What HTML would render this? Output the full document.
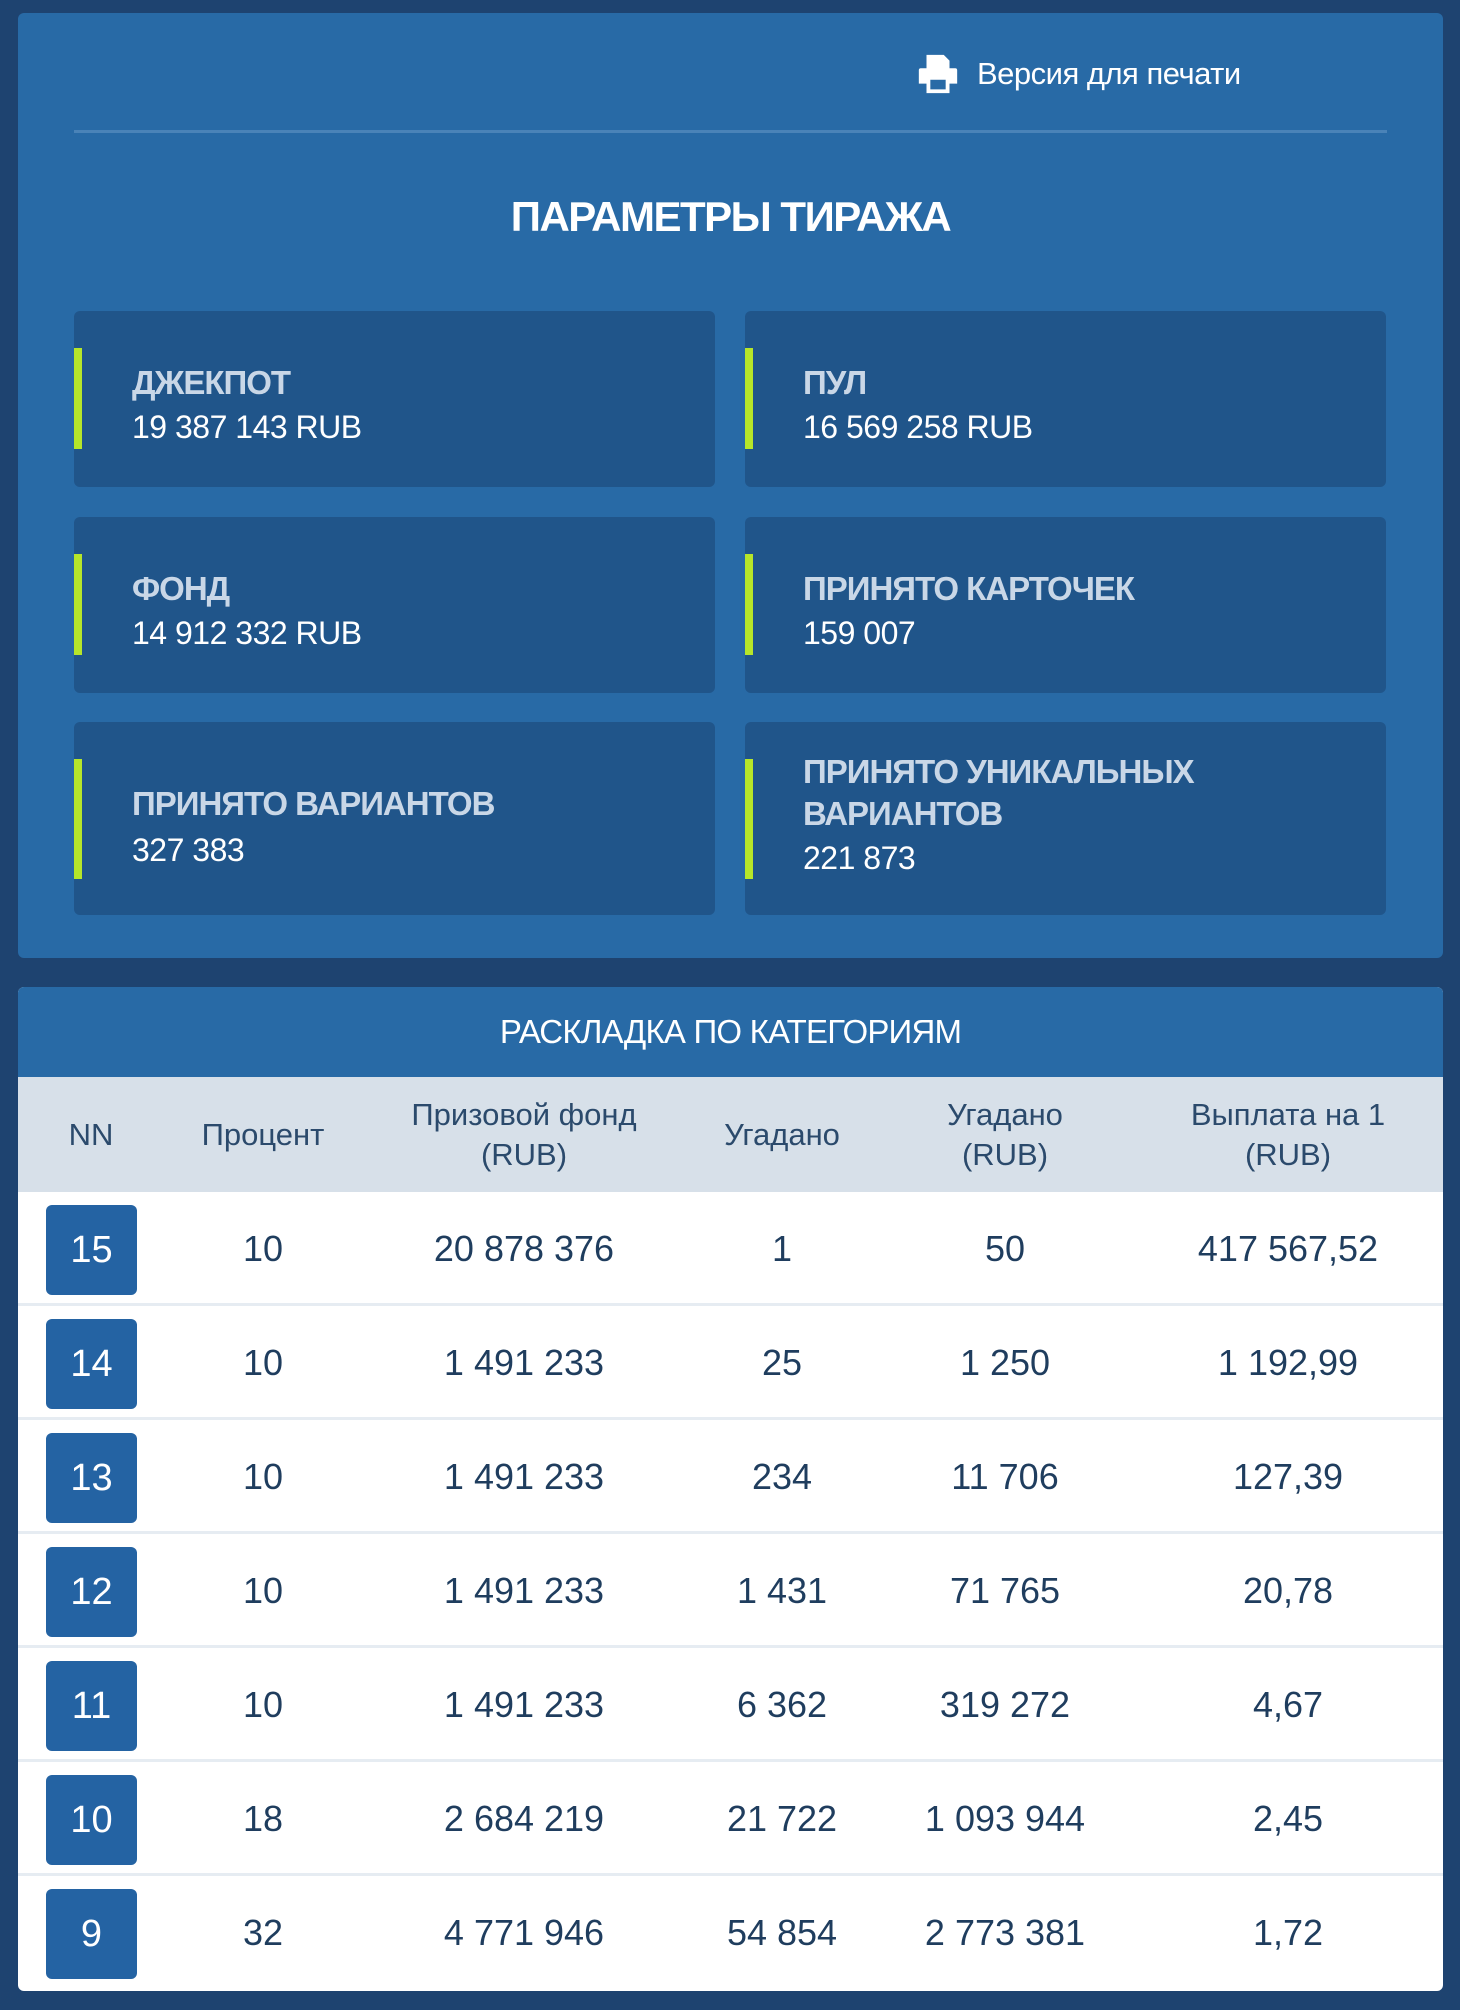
<!DOCTYPE html>
<html><head><meta charset="utf-8"><style>
*{margin:0;padding:0;box-sizing:border-box}
body{width:1460px;height:2010px;background:#1e4370;font-family:"Liberation Sans","DejaVu Sans",sans-serif;position:relative;overflow:hidden}
.card{position:absolute;left:18px;width:1425px;background:#286aa6;border-radius:6px}
.box{position:absolute;background:#20558a;border-radius:6px;width:641px}
.bar{position:absolute;left:0;width:8px;background:#b6e62a}
.lbl{position:absolute;left:58px;color:#c9d7e7;font-weight:bold;font-size:33px;letter-spacing:-1px;line-height:42px}
.val{position:absolute;left:58px;color:#fff;font-size:32px;letter-spacing:-0.5px}
.cell{position:absolute;text-align:center;color:#1f3d5e;font-size:36px;transform:translateX(-50%);white-space:nowrap}
.hd{position:absolute;text-align:center;color:#2b4a6c;font-size:31px;line-height:40px;transform:translate(-50%,-50%);white-space:nowrap}
.badge{position:absolute;left:46px;width:91px;height:90px;background:#2463a3;border-radius:6px;color:#fff;font-size:38px;line-height:90px;text-align:center}
.row{position:absolute;left:18px;width:1425px;height:114px;background:#fff;border-bottom:3px solid #e6ecf2}
</style></head><body>
<div class="card" style="top:13px;height:945px">
  <div style="position:absolute;left:897px;top:38px;height:46px;display:flex;align-items:center;color:#fff;font-size:31px;letter-spacing:-0.5px">
    <svg width="46" height="46" viewBox="0 0 24 24" style="margin-right:16px"><path fill="#fff" d="M6 2h9l3 3v4H6z M3 9h18a1 1 0 0 1 1 1v7h-4v5H6v-5H2v-7a1 1 0 0 1 1-1z M8 15v5h8v-5z" fill-rule="evenodd"/></svg>
    Версия для печати
  </div>
  <div style="position:absolute;left:56px;top:117px;width:1313px;height:3px;background:#4a83b8"></div>
  <div style="position:absolute;left:0;width:100%;top:180px;text-align:center;color:#fff;font-weight:bold;font-size:42px;letter-spacing:-1.5px">ПАРАМЕТРЫ ТИРАЖА</div>

  <div class="box" style="left:56px;top:298px;height:176px"><div class="bar" style="top:37px;height:101px"></div><div class="lbl" style="top:51px">ДЖЕКПОТ</div><div class="val" style="top:98px">19 387 143 RUB</div></div>
  <div class="box" style="left:727px;top:298px;height:176px"><div class="bar" style="top:37px;height:101px"></div><div class="lbl" style="top:51px">ПУЛ</div><div class="val" style="top:98px">16 569 258 RUB</div></div>
  <div class="box" style="left:56px;top:504px;height:176px"><div class="bar" style="top:37px;height:101px"></div><div class="lbl" style="top:51px">ФОНД</div><div class="val" style="top:98px">14 912 332 RUB</div></div>
  <div class="box" style="left:727px;top:504px;height:176px"><div class="bar" style="top:37px;height:101px"></div><div class="lbl" style="top:51px">ПРИНЯТО КАРТОЧЕК</div><div class="val" style="top:98px">159 007</div></div>
  <div class="box" style="left:56px;top:709px;height:193px"><div class="bar" style="top:37px;height:120px"></div><div class="lbl" style="top:61px">ПРИНЯТО ВАРИАНТОВ</div><div class="val" style="top:110px">327 383</div></div>
  <div class="box" style="left:727px;top:709px;height:193px"><div class="bar" style="top:37px;height:120px"></div><div class="lbl" style="top:29px">ПРИНЯТО УНИКАЛЬНЫХ<br>ВАРИАНТОВ</div><div class="val" style="top:118px">221 873</div></div>
</div>

<div class="card" style="top:987px;height:1004px;background:#fff;overflow:hidden">
  <div style="position:absolute;left:0;top:0;width:100%;height:90px;background:#286aa6;color:#fff;font-size:33px;letter-spacing:-0.8px;text-align:center;line-height:90px">РАСКЛАДКА ПО КАТЕГОРИЯМ</div>
  <div style="position:absolute;left:0;top:90px;width:100%;height:115px;background:#d7e0e9"></div>
</div>
<div id="hdr"></div>
<div id="rows"></div>
<script>
const nn=["15","14","13","12","11","10","9"];
const pct=["10","10","10","10","10","18","32"];
const fund=["20 878 376","1 491 233","1 491 233","1 491 233","1 491 233","2 684 219","4 771 946"];
const guessed=["1","25","234","1 431","6 362","21 722","54 854"];
const guessedRub=["50","1 250","11 706","71 765","319 272","1 093 944","2 773 381"];
const payout=["417 567,52","1 192,99","127,39","20,78","4,67","2,45","1,72"];
const headers=["NN","Процент","Призовой фонд<br>(RUB)","Угадано","Угадано<br>(RUB)","Выплата на 1<br>(RUB)"];
const colX=[91,263,524,782,1005,1288];
const hdrEl=document.getElementById('hdr');
headers.forEach((h,i)=>{
  const d=document.createElement('div');
  d.className='hd';
  
  
  d.style.left=colX[i]+'px';d.style.top='1135px';
  d.innerHTML=h;hdrEl.appendChild(d);
});
const rowsEl=document.getElementById('rows');
nn.forEach((n,r)=>{
  const top=1192+r*114;
  const row=document.createElement('div');
  row.className='row';
  
  
  row.style.top=top+'px';
  if(r===nn.length-1){row.style.borderBottom='none';row.style.height='99px';}
  rowsEl.appendChild(row);
  const b=document.createElement('div');
  b.className='badge';
  
  
  b.style.top=(top+13)+'px';b.textContent=n;rowsEl.appendChild(b);
  const vals=[pct[r],fund[r],guessed[r],guessedRub[r],payout[r]];
  vals.forEach((v,i)=>{
    const c=document.createElement('div');
    c.className='cell';
    
    
    c.style.left=colX[i+1]+'px';c.style.top=(top+36)+'px';
    c.textContent=v;rowsEl.appendChild(c);
  });
});
</script>
</body></html>
